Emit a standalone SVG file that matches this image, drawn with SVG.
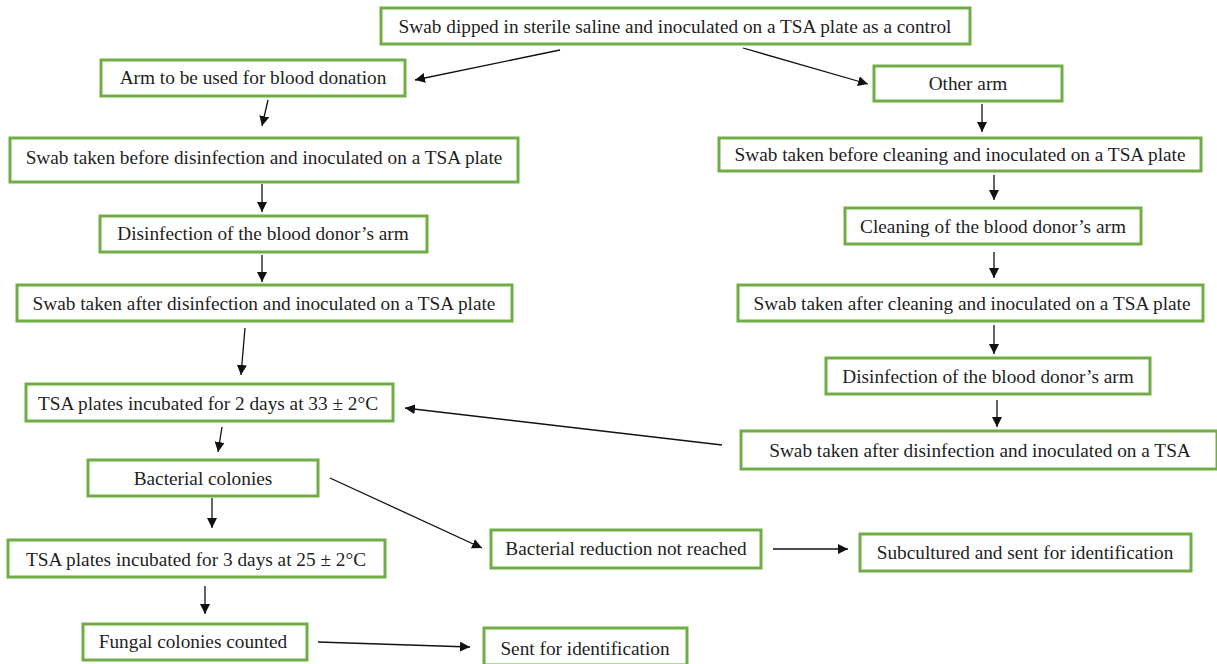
<svg xmlns="http://www.w3.org/2000/svg" width="1217" height="664" viewBox="0 0 1217 664">
<style>
.box{fill:#fff;stroke:#70AD47;stroke-width:3}
.t{font-family:"Liberation Serif","Times New Roman",serif;font-size:19.3px;fill:#1e1e1e;text-anchor:middle}
.c{stroke:#111;stroke-width:1.3;fill:none;marker-end:url(#ah)}
</style>
<defs>
<marker id="ah" viewBox="0 0 10 10" refX="10" refY="5" markerWidth="10" markerHeight="10" markerUnits="userSpaceOnUse" orient="auto">
<path d="M0,0 L10,5 L0,10 z" fill="#111"/>
</marker>
</defs>
<rect width="1217" height="664" fill="#fff"/>
<g id="connectors">
<line class="c" x1="560" y1="50" x2="415" y2="80"/>
<line class="c" x1="743" y1="48" x2="868" y2="84"/>
<line class="c" x1="268" y1="100" x2="262" y2="126"/>
<line class="c" x1="982" y1="104" x2="982" y2="132"/>
<line class="c" x1="262" y1="184" x2="262" y2="212"/>
<line class="c" x1="994" y1="175" x2="994" y2="200"/>
<line class="c" x1="262" y1="255" x2="262" y2="282"/>
<line class="c" x1="994" y1="252" x2="994" y2="278"/>
<line class="c" x1="245" y1="328" x2="241" y2="375"/>
<line class="c" x1="994" y1="325" x2="994" y2="354"/>
<line class="c" x1="997" y1="400" x2="997" y2="427"/>
<line class="c" x1="722" y1="445" x2="405" y2="408"/>
<line class="c" x1="222" y1="427" x2="218" y2="452"/>
<line class="c" x1="212" y1="498" x2="212" y2="528"/>
<line class="c" x1="330" y1="478" x2="482" y2="548"/>
<line class="c" x1="773" y1="549" x2="848" y2="549"/>
<line class="c" x1="205" y1="586" x2="205" y2="614"/>
<line class="c" x1="318" y1="642" x2="470" y2="647"/>
</g>
<g id="n1"><rect class="box" x="381" y="8" width="589" height="36"/><text class="t" x="675" y="33">Swab dipped in sterile saline and inoculated on a TSA plate as a control</text></g>
<g id="n2"><rect class="box" x="101" y="60" width="304" height="36"/><text class="t" x="253" y="84">Arm to be used for blood donation</text></g>
<g id="n3"><rect class="box" x="874" y="66" width="188" height="35"/><text class="t" x="968" y="90">Other arm</text></g>
<g id="n4"><rect class="box" x="10" y="138" width="508" height="44"/><text class="t" x="264" y="164">Swab taken before disinfection and inoculated on a TSA plate</text></g>
<g id="n5"><rect class="box" x="719" y="138" width="482" height="33"/><text class="t" x="960" y="161">Swab taken before cleaning and inoculated on a TSA plate</text></g>
<g id="n6"><rect class="box" x="100" y="216" width="327" height="36"/><text class="t" x="263" y="240">Disinfection of the blood donor’s arm</text></g>
<g id="n7"><rect class="box" x="845" y="208" width="296" height="36"/><text class="t" x="993" y="233">Cleaning of the blood donor’s arm</text></g>
<g id="n8"><rect class="box" x="17" y="285" width="495" height="36"/><text class="t" x="264" y="310">Swab taken after disinfection and inoculated on a TSA plate</text></g>
<g id="n9"><rect class="box" x="738" y="285" width="465" height="36"/><text class="t" x="972" y="310">Swab taken after cleaning and inoculated on a TSA plate</text></g>
<g id="n10"><rect class="box" x="826" y="358" width="324" height="36"/><text class="t" x="988" y="383">Disinfection of the blood donor’s arm</text></g>
<g id="n11"><rect class="box" x="26" y="384" width="367" height="37"/><text class="t" x="208" y="410">TSA plates incubated for 2 days at 33 ± 2°C</text></g>
<g id="n12"><rect class="box" x="741" y="431" width="476" height="38"/><text class="t" x="980" y="457">Swab taken after disinfection and inoculated on a TSA</text></g>
<g id="n13"><rect class="box" x="88" y="460" width="230" height="36"/><text class="t" x="203" y="485">Bacterial colonies</text></g>
<g id="n14"><rect class="box" x="491" y="530" width="270" height="38"/><text class="t" x="626" y="555">Bacterial reduction not reached</text></g>
<g id="n15"><rect class="box" x="860" y="534" width="331" height="37"/><text class="t" x="1025" y="559">Subcultured and sent for identification</text></g>
<g id="n16"><rect class="box" x="8" y="540" width="377" height="37"/><text class="t" x="196" y="566">TSA plates incubated for 3 days at 25 ± 2°C</text></g>
<g id="n17"><rect class="box" x="83" y="624" width="224" height="36"/><text class="t" x="193" y="648">Fungal colonies counted</text></g>
<g id="n18"><rect class="box" x="484" y="628" width="203" height="37"/><text class="t" x="585" y="655">Sent for identification</text></g>
</svg>
